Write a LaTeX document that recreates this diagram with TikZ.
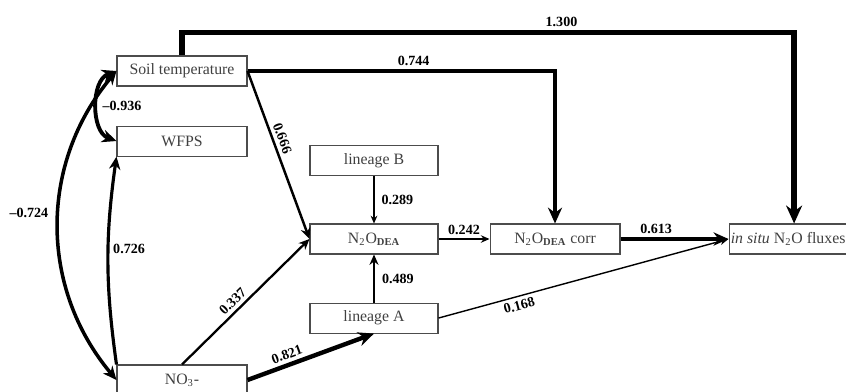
\documentclass[tikz,border=0pt]{standalone}
\usepackage{fontspec}
\setmainfont{Liberation Serif}
\usetikzlibrary{arrows.meta, positioning}

\begin{document}
\begin{tikzpicture}[x=0.02cm, y=-0.02cm,
    varbox/.style={rectangle, draw=black!70, line width=0.6pt, minimum height=0.6cm, minimum width=2.6cm, inner sep=1pt, text=black!75, font=\fontsize{9}{10}\selectfont},
    effect/.style={-{Stealth[length=3pt 2.4, width=2.5pt 2.2]}, line width=#1},
    covar/.style={{Stealth[length=3pt 2.4, width=2.5pt 2.2]}-{Stealth[length=3pt 2.4, width=2.5pt 2.2]}, line width=#1},
    coeff/.style={font=\bfseries\fontsize{8}{9}\selectfont, inner sep=2pt}]
    \useasboundingbox (0,0) rectangle (846,392);
    % variables
    \node[varbox] (soil) at (182,71) {Soil temperature};
    \node[varbox, below=0.78cm of soil] (wfps) {WFPS};
    \node[varbox] (no3) at (182,380) {NO\textsubscript{3}-};
    \node[varbox, minimum width=2.56cm] (dea) at (374,239) {N\textsubscript{2}O\textsubscript{\textbf{DEA}}};
    \node[varbox, minimum width=2.56cm, above=0.94cm of dea] (linB) {lineage B};
    \node[varbox, minimum width=2.56cm, below=0.96cm of dea] (linA) {lineage A};
    \node[varbox, right=1.02cm of dea] (corr) {N\textsubscript{2}O\textsubscript{\textbf{DEA}} corr};
    \node[varbox, minimum width=2.36cm, right=2.16cm of corr] (flux) {\textit{in situ} N\textsubscript{2}O fluxes};
    % paths
    \draw[effect=3pt] (soil.north) -- ++(0,-23) -| ([xshift=0.12cm]flux.north) node[coeff, pos=0.31, above] {1.300};
    \draw[effect=2.5pt] (soil.east) -| (corr.north) node[coeff, pos=0.27, above] {0.744};
    \draw[effect=1.4pt] (soil.east) -- (dea.west) node[coeff, pos=0.42, sloped, above] {0.666};
    \draw[effect=0.6pt] (linB) -- (dea) node[coeff, midway, right, xshift=2pt] {0.289};
    \draw[effect=1.2pt] (linA) -- (dea) node[coeff, midway, right, xshift=2pt] {0.489};
    \draw[effect=0.8pt] (dea) -- (corr) node[coeff, midway, above] {0.242};
    \draw[effect=2.3pt] (corr) -- (flux) node[coeff, pos=0.33, above] {0.613};
    \draw[effect=0.8pt] (linA.east) -- (flux.west) node[coeff, pos=0.27, sloped, below] {0.168};
    \draw[effect=1.3pt] (no3.north) -- (dea.west) node[coeff, pos=0.45, sloped, above] {0.337};
    \draw[effect=2.5pt] (no3.east) -- (linA.south) node[coeff, pos=0.34, sloped, above] {0.821};
    % correlations
    \draw[covar=2.2pt] (soil.west) to[bend right=70] node[coeff, right] {--0.936} (wfps.west);
    \draw[covar=2pt] (soil.west) to[bend right=40] node[coeff, pos=0.46, left, xshift=-3pt] {--0.724} (no3.west);
    \draw[effect=1.8pt] (no3.north west) to[bend left=8] node[coeff, pos=0.56, right] {0.726} (wfps.south west);
\end{tikzpicture}
\end{document}
